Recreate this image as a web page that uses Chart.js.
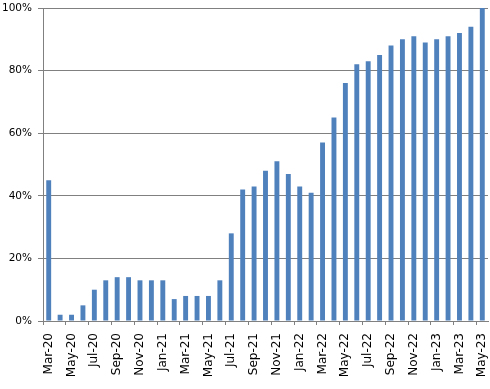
<!DOCTYPE html>
<html>
<head>
<meta charset="utf-8">
<script src="https://cdn.jsdelivr.net/npm/chart.js@4"></script>
<style>
html,body{margin:0;padding:0;background:#fff;}
#wrap{width:490px;height:389px;}
</style>
</head>
<body>
<div id="wrap"><canvas id="c" width="490" height="389"></canvas></div>
<script>
const categories = ["Mar-20","Apr-20","May-20","Jun-20","Jul-20","Aug-20","Sep-20","Oct-20","Nov-20","Dec-20","Jan-21","Feb-21","Mar-21","Apr-21","May-21","Jun-21","Jul-21","Aug-21","Sep-21","Oct-21","Nov-21","Dec-21","Jan-22","Feb-22","Mar-22","Apr-22","May-22","Jun-22","Jul-22","Aug-22","Sep-22","Oct-22","Nov-22","Dec-22","Jan-23","Feb-23","Mar-23","Apr-23","May-23"];
const values = [45,2,2,5,10,13,14,14,13,13,13,7,8,8,8,13,28,42,43,48,51,47,43,41,57,65,76,82,83,85,88,90,91,89,90,91,92,94,100];
const yTicks = [0,20,40,60,80,100];

const fam = "'DejaVu Sans', Verdana, sans-serif";
new Chart(document.getElementById('c'), {
  type: 'bar',
  data: {
    labels: categories,
    datasets: [{
      data: values,
      backgroundColor: '#4F81BD',
      borderWidth: 0,
      barPercentage: 0.43,
      categoryPercentage: 1.0
    }]
  },
  options: {
    responsive: false,
    animation: false,
    devicePixelRatio: 1,
    layout: {padding: {top: 8, right: 2, left: 0, bottom: 0}},
    plugins: {legend: {display: false}, tooltip: {enabled: false}},
    scales: {
      x: {
        offset: true,
        grid: {
          offset: true,
          drawOnChartArea: false,
          drawTicks: true,
          tickLength: 4,
          color: (ctx) => (ctx.index % 2 === 0 ? '#808080' : 'rgba(0,0,0,0)')
        },
        border: {display: true, color: '#808080', width: 1},
        ticks: {
          autoSkip: false,
          maxRotation: 90,
          minRotation: 90,
          padding: 8,
          color: '#000',
          font: {family: fam, size: 12},
          callback: function(v, i) { return i % 2 === 0 ? categories[i] : ''; }
        },
        afterFit: (s) => { s.height = 68; s.paddingLeft = 0; s.paddingRight = 0; }
      },
      y: {
        min: 0,
        max: 100,
        afterBuildTicks: (s) => { s.ticks = yTicks.map(v => ({value: v})); },
        grid: {
          color: '#808080',
          tickLength: 5,
          drawTicks: true
        },
        border: {display: true, color: '#808080', width: 1},
        ticks: {
          padding: 6,
          color: '#000',
          font: {family: fam, size: 10.5},
          callback: (v) => v + '%'
        },
        afterFit: (s) => { s.width = 43; s.paddingTop = 0; s.paddingBottom = 0; }
      }
    }
  }
});
</script>
</body>
</html>
